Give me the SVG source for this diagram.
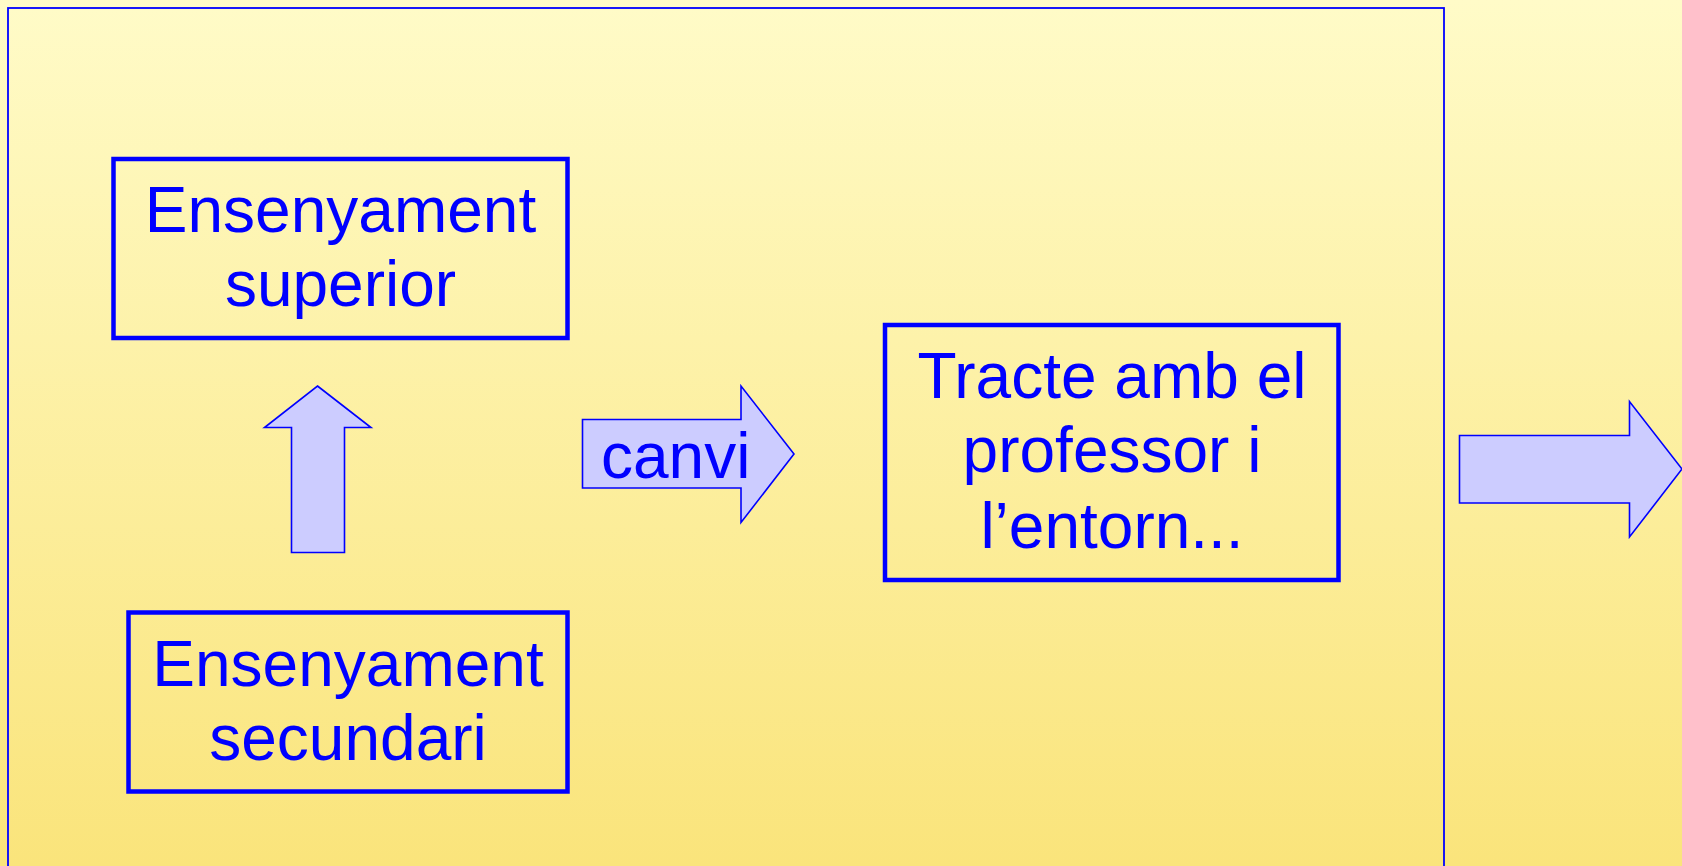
<svg xmlns="http://www.w3.org/2000/svg" width="1682" height="866" viewBox="0 0 1682 866">
<defs>
<linearGradient id="bg" x1="0" y1="0" x2="0" y2="1">
<stop offset="0" stop-color="#FFFBC8"/>
<stop offset="1" stop-color="#FAE47B"/>
</linearGradient>
</defs>
<style>
.box{fill:none;stroke:#0000FF;stroke-width:4.5}
.arrow{fill:#CCCCFF;stroke:#0000FF;stroke-width:1.6;stroke-linejoin:miter}
.t{font-family:"Liberation Sans",Arial,sans-serif;font-size:64px;fill:#0000FF;text-anchor:middle}
</style>
<rect x="0" y="0" width="1682" height="866" fill="url(#bg)"/>
<rect id="frame" x="8" y="8" width="1436" height="880" fill="none" stroke="#0000FF" stroke-width="1.8"/>
<g id="connectors">
<polygon class="arrow" points="317.5,386 371,427.5 344.5,427.5 344.5,552.5 291.5,552.5 291.5,427.5 264.5,427.5"/>
<polygon class="arrow" points="582.5,419.5 741,419.5 741,386 794,454 741,522.5 741,488 582.5,488"/>
<polygon class="arrow" points="1459.5,435.5 1629.5,435.5 1629.5,401.5 1682,469 1629.5,537 1629.5,503 1459.5,503"/>
<text x="601" y="478" class="t" style="text-anchor:start">canvi</text>
</g>
<g id="node-superior">
<rect class="box" x="113.5" y="159" width="454" height="179"/>
<text class="t" x="340.5" y="232">Ensenyament</text>
<text class="t" x="340.5" y="306">superior</text>
</g>
<g id="node-secundari">
<rect class="box" x="128.5" y="612.5" width="439" height="179"/>
<text class="t" x="348" y="686">Ensenyament</text>
<text class="t" x="348" y="760">secundari</text>
</g>
<g id="node-tracte">
<rect class="box" x="885" y="325" width="453.5" height="255"/>
<text class="t" x="1112" y="398">Tracte amb el</text>
<text class="t" x="1112" y="472">professor i</text>
<text class="t" x="1112" y="548">l’entorn...</text>
</g>
</svg>
